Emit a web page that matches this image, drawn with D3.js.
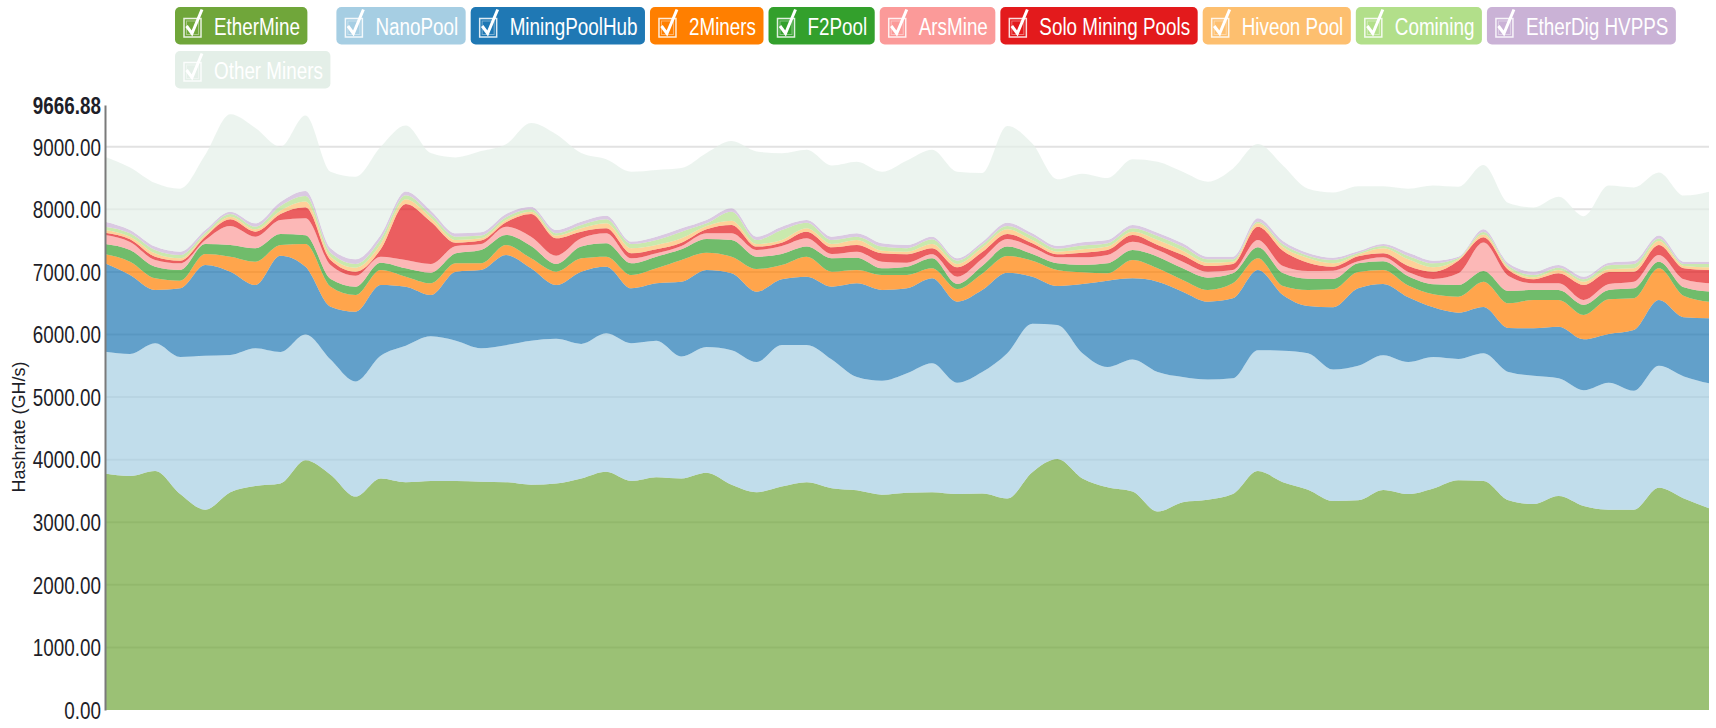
<!doctype html>
<html>
<head>
<meta charset="utf-8">
<style>
    body { margin: 0; background: #fff; }
    svg text { font-family: "Liberation Sans", Arial, sans-serif; }
</style>
</head>
<body>

<div id="container"></div>

<script src="https://cdnjs.cloudflare.com/ajax/libs/d3/7.8.5/d3.min.js"></script>
<script type="text/javascript">

    var width = 1716;
    var height = 728;
    var container = "#container";

    // one value per sample (GH/s)
    var ethermine = [3780, 3740, 3820, 3450, 3200, 3480, 3580, 3620, 3990, 3760, 3410, 3700, 3640, 3660, 3660, 3648, 3640, 3600, 3620, 3700, 3808, 3660, 3720, 3700, 3790, 3600, 3480, 3570, 3640, 3545, 3510, 3440, 3470, 3480, 3450, 3460, 3380, 3800, 4010, 3700, 3560, 3490, 3170, 3320, 3360, 3450, 3820, 3640, 3520, 3340, 3350, 3515, 3450, 3540, 3670, 3660, 3350, 3290, 3420, 3260, 3200, 3200, 3550, 3380, 3223];
    var nanopool = [1946, 1950, 2040, 2190, 2460, 2193, 2200, 2100, 2010, 1840, 1840, 1960, 2180, 2310, 2240, 2132, 2190, 2300, 2310, 2150, 2211, 2200, 2180, 1950, 2010, 2150, 2080, 2263, 2193, 2055, 1810, 1820, 1910, 2060, 1780, 1940, 2320, 2370, 2140, 2000, 1920, 2110, 2230, 2000, 1920, 1850, 1930, 2100, 2180, 2100, 2150, 2155, 2110, 2100, 1940, 2040, 2050, 2050, 1880, 1850, 2030, 1900, 1950, 1950, 1997];
    var miningpoolhub = [1411, 1261, 851, 1098, 1451, 1331, 1011, 1540, 1084, 845, 1115, 1131, 944, 661, 1104, 1251, 1440, 1157, 861, 1154, 1065, 878, 918, 1194, 1231, 1228, 1124, 1048, 1091, 1164, 1497, 1451, 1358, 1357, 1295, 1311, 1288, 754, 625, 1107, 1380, 1297, 1444, 1364, 1245, 1278, 1281, 891, 756, 994, 1238, 1137, 1034, 794, 739, 740, 704, 759, 825, 813, 778, 972, 1051, 945, 1039];
    var twominers = [144, 213, 186, 122, 175, 240, 373, 170, 362, 319, 266, 240, 160, 187, 133, 106, 160, 160, 213, 213, 160, 213, 239, 346, 277, 266, 363, 230, 320, 240, 214, 240, 213, 160, 202, 261, 266, 256, 256, 186, 117, 293, 213, 187, 186, 239, 186, 144, 255, 288, 261, 224, 187, 208, 256, 404, 394, 453, 427, 389, 554, 506, 507, 340, 266];
    var f2pool = [165, 186, 187, 171, 160, 186, 213, 176, 139, 123, 133, 117, 133, 170, 160, 213, 160, 197, 123, 187, 213, 186, 187, 171, 218, 266, 197, 175, 160, 213, 197, 106, 133, 160, 80, 123, 150, 106, 106, 118, 160, 160, 187, 186, 197, 161, 176, 208, 181, 165, 138, 138, 149, 160, 186, 171, 197, 159, 159, 160, 149, 160, 106, 139, 160];
    var arsmine = [144, 128, 107, 106, 64, 304, 186, 224, 271, 224, 176, 96, 133, 139, 117, 96, 133, 149, 133, 133, 160, 80, 53, 53, 91, 107, 106, 128, 133, 69, 95, 107, 64, 64, 117, 117, 122, 107, 96, 122, 133, 133, 106, 107, 96, 53, 117, 112, 123, 133, 32, 64, 69, 85, 187, 453, 240, 107, 107, 80, 96, 106, 107, 128, 133];
    var solo = [37, 43, 53, 43, 53, 107, 80, 96, 176, 80, 64, 117, 895, 676, 53, 54, 69, 363, 277, 106, 79, 80, 64, 53, 64, 133, 54, 53, 106, 107, 107, 133, 133, 96, 149, 106, 80, 64, 48, 75, 80, 107, 80, 106, 91, 96, 213, 245, 133, 64, 80, 64, 96, 117, 202, 85, 96, 64, 160, 239, 192, 160, 159, 176, 213];
    var hiveon = [43, 42, 53, 37, 27, 42, 37, 53, 91, 53, 64, 85, 75, 64, 43, 37, 38, 37, 43, 53, 80, 80, 69, 69, 53, 69, 42, 43, 53, 53, 80, 42, 42, 69, 54, 70, 75, 53, 43, 53, 54, 53, 80, 70, 53, 37, 54, 59, 75, 54, 27, 80, 106, 70, 21, 43, 32, 32, 53, 53, 43, 54, 64, 37, 43];
    var comining = [53, 54, 53, 53, 37, 43, 43, 74, 90, 64, 59, 75, 64, 53, 53, 43, 42, 37, 37, 54, 64, 69, 80, 107, 42, 144, 64, 160, 91, 64, 53, 65, 54, 75, 53, 48, 53, 59, 48, 59, 53, 54, 64, 64, 53, 37, 26, 42, 37, 53, 27, 37, 54, 63, 22, 42, 32, 37, 37, 38, 64, 69, 38, 32, 53];
    var etherdig = [80, 53, 54, 54, 43, 37, 53, 64, 80, 69, 74, 69, 59, 59, 54, 53, 54, 43, 53, 53, 59, 38, 53, 53, 54, 53, 53, 53, 43, 53, 54, 53, 53, 42, 37, 42, 53, 48, 42, 53, 53, 53, 53, 53, 43, 43, 54, 53, 43, 37, 26, 32, 53, 43, 21, 43, 42, 53, 43, 42, 42, 48, 48, 37, 37];
    var otherminers = [1039, 1000, 1016, 1006, 1200, 1557, 1524, 883, 1207, 1223, 1319, 1410, 1057, 921, 1213, 1297, 1114, 1337, 1530, 1097, 901, 1116, 1066, 964, 1070, 1074, 1362, 1172, 1120, 1137, 1143, 1143, 1350, 1387, 1383, 1102, 1543, 1433, 1066, 1097, 990, 1050, 1133, 1143, 1198, 1406, 1187, 1206, 1027, 1042, 1041, 924, 1022, 1200, 1116, 1028, 963, 1026, 1089, 966, 1232, 1175, 1010, 1056, 1118];

    var names = ["EtherMine", "NanoPool", "MiningPoolHub", "2Miners", "F2Pool", "ArsMine",
        "Solo Mining Pools", "Hiveon Pool", "Comining", "EtherDig HVPPS", "Other Miners"];
    var values = [ethermine, nanopool, miningpoolhub, twominers, f2pool, arsmine,
        solo, hiveon, comining, etherdig, otherminers];
    var colors = ["#70a63a", "#a6cee3", "#1f78b4", "#ff7f00", "#33a02c", "#fb9a99",
        "#e31a1c", "#fdbf6f", "#b2df8a", "#cab2d6", "#e4efe8"];

    var yTop = 9666.88;
    var yTicks = [0, 1000, 2000, 3000, 4000, 5000, 6000, 7000, 8000, 9000, yTop];
    var ylabel = "Hashrate (GH/s)";

    var margin = {top: 105, right: 7, bottom: 18, left: 105};

    var rows = ethermine.map(function (_, i) {
        var row = {};
        names.forEach(function (name, k) { row[name] = values[k][i]; });
        return row;
    });

    var svg = d3.select(container).append("svg")
        .attr("width", width)
        .attr("height", height);

    // use the narrow face if it exists, else squeeze Liberation Sans
    function measure(fam) {
        var t = svg.append("text").style("font-family", fam).style("font-size", "23px").text("EtherMine 9000.00");
        var w = t.node().getComputedTextLength();
        t.remove();
        return w;
    }
    var narrowOk = measure("'Liberation Sans Narrow', monospace") !== measure("monospace") &&
        measure("'Liberation Sans Narrow', serif") !== measure("serif");
    var squeeze = narrowOk ? 1 : 0.82;
    var family = narrowOk ? "'Liberation Sans Narrow'" : "'Liberation Sans', Arial, sans-serif";

    var x_scale = d3.scaleLinear()
        .domain([0, rows.length - 1])
        .range([margin.left, width - margin.right]);

    var y_scale = d3.scaleLinear()
        .domain([0, yTop])
        .range([height - margin.bottom, margin.top]);

    var series = d3.stack().keys(names)(rows);

    // grid behind the areas
    svg.append("g")
        .attr("class", "y grid")
        .selectAll("line")
        .data(yTicks.filter(function (d) { return d > 0 && d < yTop; }))
        .enter().append("line")
        .attr("x1", margin.left)
        .attr("x2", width - margin.right)
        .attr("y1", function (d) { return y_scale(d); })
        .attr("y2", function (d) { return y_scale(d); })
        .attr("stroke", "#e2e2e2")
        .attr("stroke-width", 2);

    var draw_area = d3.area()
        .curve(d3.curveMonotoneX)
        .x(function (d, i) { return x_scale(i); })
        .y0(function (d) { return y_scale(d[0]); })
        .y1(function (d) { return y_scale(d[1]); });

    svg.append("g")
        .attr("class", "areas")
        .selectAll("path")
        .data(series)
        .enter().append("path")
        .attr("d", draw_area)
        .attr("fill", function (d, i) { return colors[i]; })
        .attr("fill-opacity", 0.7);

    var y_axis = d3.axisLeft(y_scale)
        .tickValues(yTicks)
        .tickFormat(d3.format(".2f"))
        .tickSize(0)
        .tickSizeOuter(0)
        .tickPadding(5);

    var yg = svg.append("g")
        .attr("class", "y axis")
        .attr("transform", "translate(" + margin.left + ",0)")
        .call(y_axis);

    yg.select(".domain")
        .attr("stroke", "#7a7a7a")
        .attr("stroke-width", 2);

    yg.selectAll(".tick text")
        .style("font-family", family)
        .style("font-size", "23px")
        .attr("fill", "#1e1e28")
        .attr("dy", "0.36em")
        .attr("transform", "scale(" + squeeze + ",1)")
        .style("font-weight", function (d) { return d === yTop ? "bold" : "normal"; });

    svg.append("text")
        .attr("class", "y axis text")
        .attr("transform", "rotate(-90)")
        .attr("x", -427)
        .attr("y", 25)
        .style("text-anchor", "middle")
        .style("font-family", "'Liberation Sans', Arial, sans-serif")
        .style("font-size", "18px")
        .attr("fill", "#1e1e28")
        .text(ylabel);

    // legend buttons
    var legend = svg.append("g").attr("class", "legend");
    var lx = 175, ly = 7;
    names.forEach(function (name, i) {
        var g = legend.append("g");
        var rect = g.append("rect");
        var label = g.append("text")
            .attr("transform", "translate(39,27.5) scale(" + squeeze + ",1)")
            .style("font-family", family)
            .style("font-size", "23px")
            .attr("fill", "#fff")
            .text(name);
        var w = label.node().getComputedTextLength() * squeeze + 46.5;
        if (lx + w > width) {
            lx = 175;
            ly += 44;
        }
        g.attr("transform", "translate(" + lx + "," + ly + ")");
        rect.attr("width", w)
            .attr("height", 37.5)
            .attr("rx", 5)
            .attr("fill", colors[i]);
        g.append("rect")
            .attr("x", 9).attr("y", 11.5)
            .attr("width", 17).attr("height", 18.5)
            .attr("fill", "none")
            .attr("stroke", "#fff")
            .attr("stroke-opacity", 0.85)
            .attr("stroke-width", 1.5);
        g.append("rect")
            .attr("x", 11.5).attr("y", 14)
            .attr("width", 12).attr("height", 13.5)
            .attr("fill", "none")
            .attr("stroke", "#fff")
            .attr("stroke-opacity", 0.4)
            .attr("stroke-width", 1);
        g.append("path")
            .attr("d", "M11.5,19 L17,26.5 L27,2.5")
            .attr("fill", "none")
            .attr("stroke", "#fff")
            .attr("stroke-width", 3);
        lx += w + (i === 0 ? 29 : 5);
    });

</script>
</body>
</html>
